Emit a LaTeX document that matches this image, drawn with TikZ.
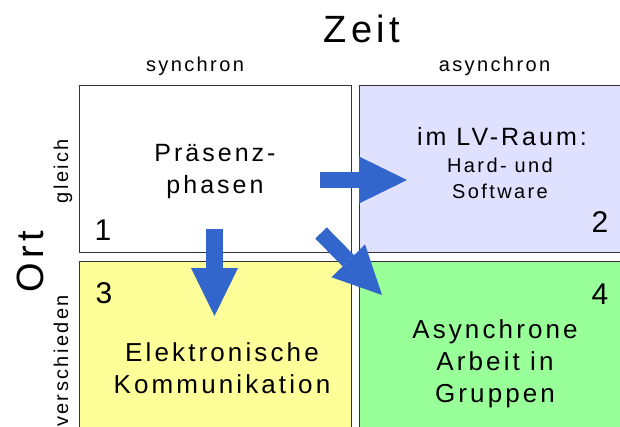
\documentclass[tikz,border=0pt]{standalone}
\usepackage{fontspec}
\setmainfont{Liberation Sans}[LetterSpace=12]
\usetikzlibrary{positioning,arrows.meta}

\definecolor{raumblue}{HTML}{E0E0FF}
\definecolor{kommyellow}{HTML}{FFFF99}
\definecolor{gruppengreen}{HTML}{99FF99}
\definecolor{pfeilblue}{HTML}{3366CC}

\tikzset{
  feld/.style={draw=black!80, line width=1pt, anchor=north west, inner sep=0pt,
    minimum width=272pt, minimum height=167pt},
  pfeil/.style={pfeilblue, line width=16pt,
    -{Triangle[width=47pt,length=48pt,line width=0pt]}},
}

\begin{document}
\begin{tikzpicture}[x=1pt, y=-1pt]
\useasboundingbox (0,0) rectangle (620,426);
\clip (0,0) rectangle (620,426);

% Quadrants
\node[feld] (q1) at (79,85) {};
\node[feld, fill=raumblue, minimum width=290pt] (q2) at (359,85) {};
\node[feld, fill=kommyellow, minimum height=190pt] (q3) at (79,261) {};
\node[feld, fill=gruppengreen, minimum width=290pt, minimum height=190pt] (q4) at (359,261) {};

% Axis titles
\node[font=\fontsize{38}{40}\selectfont, anchor=base] (zeit) at (362,42) {Zeit};
\node[font=\fontsize{38}{40}\selectfont, anchor=base, rotate=90] (ort) at (43,262) {Ort};

% Column and row labels
\node[font=\fontsize{20}{24}\selectfont, anchor=base] (sync) at (195,71) {synchron};
\node[font=\fontsize{20}{24}\selectfont, anchor=base] (async) at (494.5,71) {asynchron};
\node[font=\fontsize{20}{24}\selectfont, anchor=base, rotate=90] (gleich) at (68,171) {gleich};
\node[font=\fontsize{20}{24}\selectfont, anchor=base, rotate=90] (versch) at (68,361) {verschieden};

% Quadrant texts
\node[font=\fontsize{25}{32}\selectfont, align=center] (praesenz) at (215,171) {Präsenz-\\phasen};
\node[font=\fontsize{25}{28}\selectfont, anchor=base] (lvraum) at (502,145) {im LV-Raum:};
\node[font=\fontsize{20}{26}\selectfont, align=center] (hardsoft) at (500,178) {Hard- und\\Software};
\node[font=\fontsize{26}{32}\selectfont, align=center] (ekomm) at (222,368) {Elektronische\\Kommunikation};
\node[font=\fontsize{26}{32}\selectfont, align=center] (asyncarb) at (495,363.5) {Asynchrone\\Arbeit in\\Gruppen};

% Quadrant numbers
\node[font=\fontsize{30}{32}\selectfont, anchor=base] (n1) at (103,240) {1};
\node[font=\fontsize{30}{32}\selectfont, anchor=base] (n2) at (600,232) {2};
\node[font=\fontsize{30}{32}\selectfont, anchor=base] (n3) at (104,303) {3};
\node[font=\fontsize{30}{32}\selectfont, anchor=base] (n4) at (600,304) {4};

% Arrows
\coordinate (rs) at (320,180);
\coordinate (re) at (407,180);
\coordinate (ds) at (214.5,229);
\coordinate (de) at (214.5,316);
\coordinate (gs) at (321,233);
\coordinate (ge) at (382,295);
\draw[pfeil] (rs) -- (re);
\draw[pfeil, line width=17pt] (ds) -- (de);
\draw[pfeil] (gs) -- (ge);

\end{tikzpicture}
\end{document}
